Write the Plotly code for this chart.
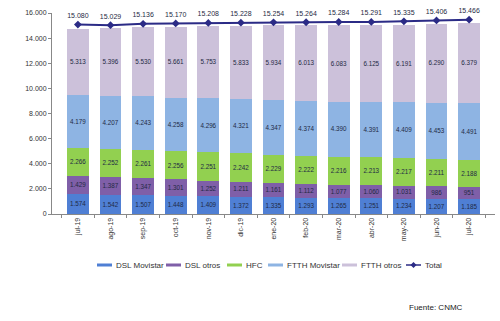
import plotly.graph_objects as go

months = ["jul-19", "ago-19", "sep-19", "oct-19", "nov-19", "dic-19", "ene-20",
          "feb-20", "mar-20", "abr-20", "may-20", "jun-20", "jul-20"]
dsl_movistar = [1574, 1542, 1507, 1448, 1409, 1372, 1335, 1293, 1265, 1251, 1234, 1207, 1185]
dsl_otros = [1429, 1387, 1347, 1301, 1252, 1211, 1161, 1112, 1077, 1060, 1031, 986, 951]
hfc = [2266, 2252, 2261, 2256, 2251, 2242, 2229, 2222, 2216, 2213, 2217, 2211, 2188]
ftth_movistar = [4179, 4207, 4243, 4258, 4296, 4321, 4347, 4374, 4390, 4391, 4409, 4453, 4491]
ftth_otros = [5313, 5396, 5530, 5661, 5753, 5833, 5934, 6013, 6083, 6125, 6191, 6290, 6379]
total = [15080, 15029, 15136, 15170, 15208, 15228, 15254, 15264, 15284, 15291, 15335, 15406, 15466]

series_names = ["DSL Movistar", "DSL otros", "HFC", "FTTH Movistar", "FTTH otros"]
series_values = [dsl_movistar, dsl_otros, hfc, ftth_movistar, ftth_otros]
series_colors = ["#4f7fd4", "#7f5fa8", "#92d050", "#8eb4e3", "#ccc1da"]
total_color = "#2b2b86"

FONT = "Liberation Sans, Arial, sans-serif"
W, H = 500, 321
ML, MR, MT, MB = 52, 5, 13, 107
PW, PH = W - ML - MR, H - MT - MB


def px_x(p):
    return (p - ML) / PW


def px_y(p):
    return (H - MB - p) / PH


fig = go.Figure()
for name, vals, col in zip(series_names, series_values, series_colors):
    fig.add_trace(go.Bar(
        x=months, y=vals, name=name, marker_color=col, marker_line_width=0,
        text=vals, texttemplate="%{y:,.0f}", textposition="inside",
        insidetextanchor="middle", textangle=0,
        textfont=dict(size=7, color="#1f2a44", family=FONT),
        showlegend=False, hoverinfo="skip"))

fig.add_trace(go.Scatter(
    x=months, y=total, name="Total", mode="lines+markers+text",
    line=dict(color=total_color, width=2),
    marker=dict(symbol="diamond", size=6, color=total_color),
    text=total, texttemplate="%{y:,.0f}", textposition="top center",
    cliponaxis=False, showlegend=False,
    textfont=dict(size=7, color="#1f2a44", family=FONT)))

# Manual legend (Excel-like short line keys), positioned in paper coordinates
legend_names = series_names + ["Total"]
legend_colors = series_colors + [total_color]
key_starts = [97, 166, 227, 268, 342, 406]
key_len = 15
ly = px_y(265)
for name, col, x0 in zip(legend_names, legend_colors, key_starts):
    fig.add_shape(type="line", xref="paper", yref="paper",
                  x0=px_x(x0), x1=px_x(x0 + key_len), y0=ly, y1=ly,
                  line=dict(color=col, width=3 if name != "Total" else 1.5))
    fig.add_annotation(text=name, xref="paper", yref="paper",
                       x=px_x(x0 + key_len + 2), y=ly, xanchor="left",
                       yanchor="middle", showarrow=False,
                       font=dict(size=8, color="#333333", family=FONT))
# diamond marker on the Total key
fig.add_shape(type="path", xref="paper", yref="paper",
              xsizemode="pixel", ysizemode="pixel",
              xanchor=px_x(key_starts[-1] + key_len / 2), yanchor=ly,
              path="M 0,-3 L 3,0 L 0,3 L -3,0 Z",
              fillcolor=total_color, line=dict(color=total_color, width=0))

fig.add_annotation(text="Fuente: CNMC", xref="paper", yref="paper",
                   x=px_x(465), y=px_y(307),
                   xanchor="right", yanchor="middle", showarrow=False,
                   font=dict(size=8, color="#222222", family=FONT))

fig.update_layout(
    width=W, height=H,
    margin=dict(l=ML, r=MR, t=MT, b=MB),
    paper_bgcolor="white", plot_bgcolor="white",
    barmode="stack", bargap=0.33,
    separators=",.",
    font=dict(family=FONT, size=7, color="#333333"),
    uniformtext=dict(minsize=6, mode="show"),
    showlegend=False,
)

fig.update_yaxes(range=[0, 16000], tickvals=list(range(0, 16001, 2000)),
                 tickformat=",.0f", showgrid=False, showline=True,
                 linecolor="#888888", linewidth=1, ticks="outside", ticklen=3,
                 tickcolor="#888888", tickfont=dict(size=7, color="#333333"),
                 zeroline=False)
fig.update_xaxes(showline=True, linecolor="#888888", linewidth=1, ticks="outside",
                 ticklen=3, tickcolor="#888888", tickson="boundaries",
                 tickangle=-90, tickfont=dict(size=7, color="#333333"), showgrid=False)

fig.write_html("out.html")
